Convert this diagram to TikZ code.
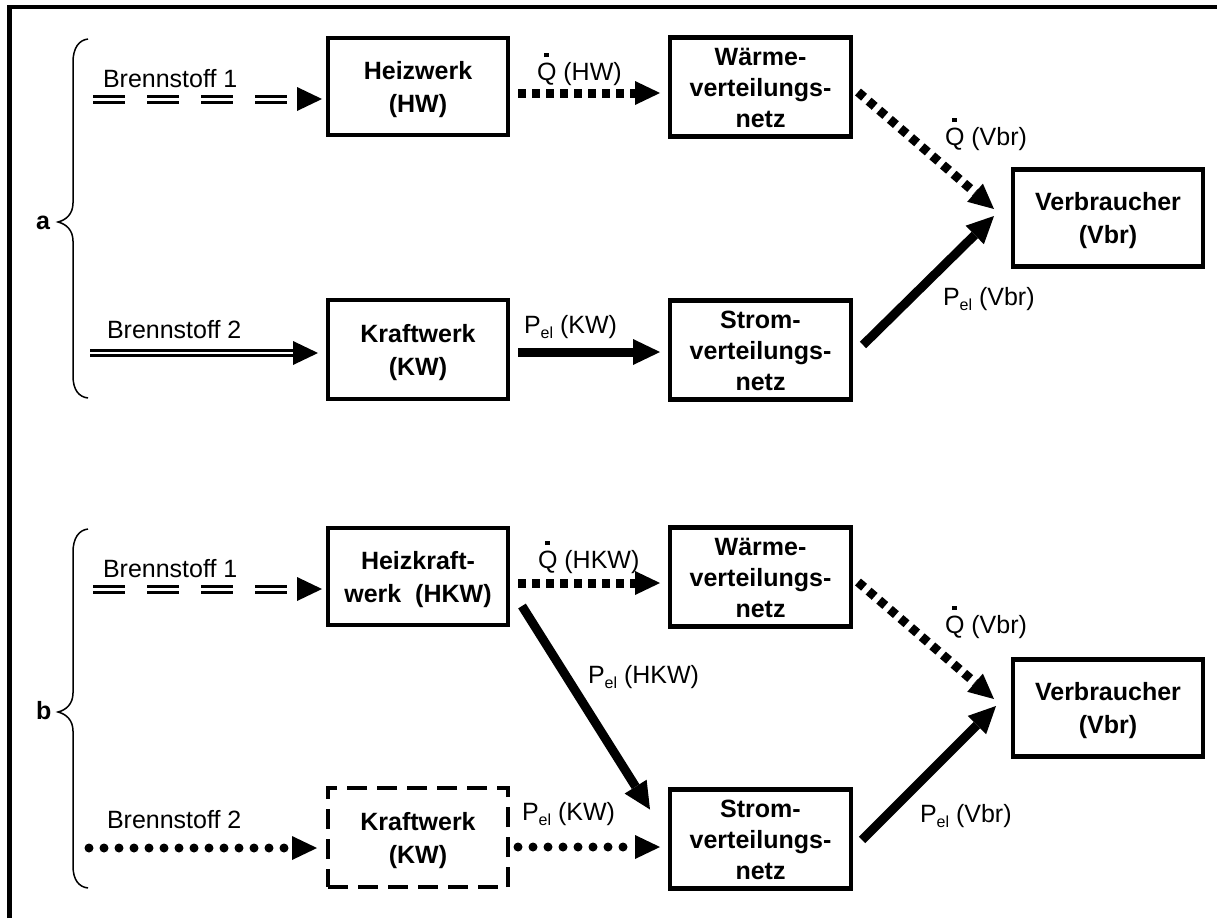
\documentclass[tikz,border=0pt]{standalone}
\usepackage{fontspec}
\setmainfont{Liberation Sans}
\usetikzlibrary{arrows.meta,calc}

% centred block of lines, baseline on the first line
\newcommand\boxlines[1]{\vtop{\halign{\hfil##\hfil\cr#1\crcr}}}
% Q with a flux dot
\newcommand\Qdot{\leavevmode\setbox0\hbox{Q}\rlap{\hbox to\wd0{\hss\raisebox{23pt}{\rule{4.5pt}{4.5pt}}\hss}}Q}
% P with subscript el
\newcommand\Pel{P\raisebox{-5pt}{\fontsize{16}{16}\selectfont el}}

\tikzset{
  every node/.style={font=\fontsize{25}{33}\selectfont, inner sep=0pt, outer sep=0pt},
  plant/.style={draw, line width=4.5pt, minimum width=180pt, minimum height=97pt,
    font=\fontsize{25}{33}\selectfont\bfseries, text height=18pt},
  two/.style={text depth=33pt},
  three/.style={font=\fontsize{25}{31}\selectfont\bfseries, text depth=62pt},
  lbl/.style={anchor=base west},
  tip/.style={-{Triangle[length=25pt,width=24pt,line width=0pt]}},
  heat/.style={tip, line width=9pt, dash pattern=on 8pt off 6pt},
  power/.style={-{Triangle[length=27pt,width=26pt,line width=0pt]}, line width=9pt},
  weak/.style={tip, line width=9pt, dash pattern=on 0pt off 15pt, line cap=round},
  fuel/.style={double, line width=3pt, double distance=3pt},
  fueltip/.style={tip, line width=3pt},
  brace/.style={line width=1.5pt},
}

\begin{document}
\begin{tikzpicture}[x=1pt,y=-1pt]
\useasboundingbox (0,0) rectangle (1217,918);

% frame
\draw[line width=4.3pt] (9.5,918) -- (9.5,7) -- (1217,7);

% ---------------- variant a ----------------
\draw[brace] (88,39) .. controls (79,40) and (73,48) .. (73,62) -- (73,203)
  .. controls (73,214) and (66,220) .. (58,222)
  .. controls (66,224) and (73,230) .. (73,241) -- (73,376)
  .. controls (73,390) and (79,397) .. (88,398);
\node[lbl, font=\fontsize{25}{33}\selectfont\bfseries] (ta) at (36,229) {a};

\node[plant, two] (hw) at (418,86.5) {\boxlines{Heizwerk\cr(HW)}};
\node[plant, three, minimum width=181pt, minimum height=99pt] (wa) at (760.5,87) {\boxlines{Wärme-\cr verteilungs-\cr netz}};
\node[plant, two, minimum height=99pt] (kw) at (418,349.5) {\boxlines{Kraftwerk\cr(KW)}};
\node[plant, three, minimum width=181pt, minimum height=99pt] (st) at (760.5,350) {\boxlines{Strom-\cr verteilungs-\cr netz}};
\node[plant, two, minimum width=190pt] (vb) at (1108,218) {\boxlines{Verbraucher\cr(Vbr)}};

\coordinate (f1a) at (93,99);
\coordinate (f2a) at (90,353);

\node[lbl] (l1a) at (103,87) {Brennstoff 1};
\node[lbl] (l2a) at (107,338) {Brennstoff 2};
\node[lbl] (lqa) at (537,80) {\Qdot\ (HW)};
\node[lbl] (lpa) at (524,333) {\Pel\ (KW)};
\node[lbl] (lqva) at (945,145) {\Qdot\ (Vbr)};
\node[lbl] (lpva) at (943,305) {\Pel\ (Vbr)};

\draw[fuel, dash pattern=on 32pt off 22pt] (f1a) -- ($(hw.west)+(-31,12.5)$);
\draw[fueltip] ($(hw.west)+(-31,12.5)$) -- ($(hw.west)+(-6,12.5)$);
\draw[heat] ($(hw.east)+(10,6.5)$) -- ($(wa.west)+(-10,6)$);
\draw[fuel, line width=2.5pt, double distance=2.5pt] (f2a) -- ($(kw.west)+(-35,3.5)$);
\draw[fueltip] ($(kw.west)+(-35,3.5)$) -- ($(kw.west)+(-10,3.5)$);
\draw[power] ($(kw.east)+(10,2.5)$) -- ($(st.west)+(-10,2)$);
\draw[heat] ($(wa.east)+(7,5)$) -- ($(vb.west)+(-19,-9)$);
\draw[power] ($(st.east)+(12,-5)$) -- ($(vb.west)+(-19,-2)$);

% ---------------- variant b ----------------
\draw[brace] (88,529) .. controls (79,530) and (73,538) .. (73,552) -- (73,693)
  .. controls (73,704) and (66,710) .. (58,712)
  .. controls (66,714) and (73,720) .. (73,731) -- (73,866)
  .. controls (73,880) and (79,887) .. (88,888);
\node[lbl, font=\fontsize{25}{33}\selectfont\bfseries] (tb) at (36,719) {b};

\node[plant, two] (hkw) at (418,576.5) {\boxlines{Heizkraft-\cr werk\ \ (HKW)}};
\node[plant, three, minimum width=181pt, minimum height=99pt] (wb) at (760.5,577) {\boxlines{Wärme-\cr verteilungs-\cr netz}};
\node[plant, two, minimum height=99pt, dash pattern=on 20pt off 10pt] (kwb) at (418,837.5) {\boxlines{Kraftwerk\cr(KW)}};
\node[plant, three, minimum width=181pt, minimum height=99pt] (stb) at (760.5,839) {\boxlines{Strom-\cr verteilungs-\cr netz}};
\node[plant, two, minimum width=190pt] (vbb) at (1108,708) {\boxlines{Verbraucher\cr(Vbr)}};

\coordinate (f1b) at (93,589);
\coordinate (f2b) at (89,848);

\node[lbl] (l1b) at (103,577) {Brennstoff 1};
\node[lbl] (l2b) at (107,828) {Brennstoff 2};
\node[lbl] (lqb) at (538,568) {\Qdot\ (HKW)};
\node[lbl] (lphb) at (588,683) {\Pel\ (HKW)};
\node[lbl] (lpb) at (522,820) {\Pel\ (KW)};
\node[lbl] (lqvb) at (945,633) {\Qdot\ (Vbr)};
\node[lbl] (lpvb) at (920,822) {\Pel\ (Vbr)};

\draw[fuel, dash pattern=on 32pt off 22pt] (f1b) -- ($(hkw.west)+(-31,12.5)$);
\draw[fueltip] ($(hkw.west)+(-31,12.5)$) -- ($(hkw.west)+(-6,12.5)$);
\draw[heat] ($(hkw.east)+(10,6.5)$) -- ($(wb.west)+(-10,6)$);
\draw[power] ($(hkw.east)+(14,29.5)$) -- ($(stb.north west)+(-20,20)$);
\draw[weak] (f2b) -- ($(kwb.west)+(-11,10.5)$);
\draw[weak] ($(kwb.east)+(10,9.5)$) -- ($(stb.west)+(-10,8)$);
\draw[heat] ($(wb.east)+(7,5)$) -- ($(vbb.west)+(-19,-9)$);
\draw[power] ($(stb.east)+(11,1)$) -- ($(vbb.west)+(-17,-2)$);
\end{tikzpicture}
\end{document}
